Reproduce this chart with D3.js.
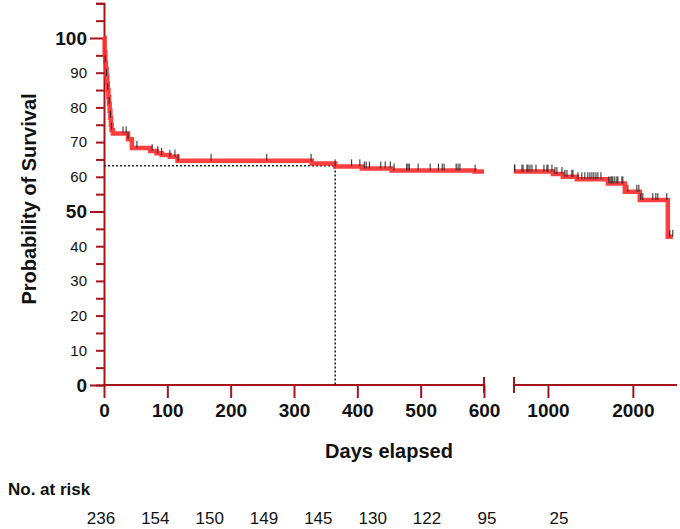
<!DOCTYPE html>
<html>
<head>
<meta charset="utf-8">
<script src="https://cdn.jsdelivr.net/npm/d3@7"></script>
<style>
  body { margin: 0; background: #fff; }
  text { font-family: "Liberation Sans", Arial, sans-serif; fill: #111; }
</style>
</head>
<body>
<script>
// Kaplan-Meier steps (days, % surviving)
var stepDays = [0, 1, 2, 3, 4, 5, 6, 7, 8, 9, 10, 11, 12, 14, 38, 44, 73, 83, 91, 104, 116,
                328, 365, 407, 454, 585, 1059, 1176, 1341, 1706, 1906, 2082, 2412];
var stepSurv = [100, 96, 93, 91, 89, 87, 85, 83, 81, 79, 77, 75, 73.5, 72.5, 70.8, 68.3, 67.4, 66.8, 66.3, 65.8, 64.6,
                63.8, 63.0, 62.4, 61.8, 61.5, 60.8, 60.0, 59.3, 58.1, 55.7, 53.3, 42.7];
var lastDay = 2471;

// censored observations (days)
var censorDays = [2, 4, 6, 8, 10, 12, 30, 35, 38, 52, 76, 85, 91, 104, 112, 117, 169, 257, 327, 365,
                  391, 404, 411, 414, 419, 437, 444, 452, 458, 478, 480, 482, 496, 515, 528, 534, 537,
                  556, 559, 562, 586, 605, 610, 694, 706, 753, 765, 788, 812, 859, 953, 988, 1000, 1047,
                  1082, 1106, 1165, 1200, 1224, 1282, 1294, 1353, 1400, 1435, 1470, 1494, 1518, 1541,
                  1565, 1588, 1624, 1718, 1741, 1753, 1765, 1788, 1812, 1824, 1871, 1882, 1941, 2047,
                  2071, 2094, 2118, 2235, 2271, 2294, 2400, 2435, 2471];

var xTicks1 = [0, 100, 200, 300, 400, 500, 600];
var xTicks2 = [1000, 2000];
var yTicks = d3.range(0, 111, 5);
var yBold = [0, 50, 100];

var riskCounts = [236, 154, 150, 149, 145, 130, 122, 95, 25];

var medianDay = 365, medianSurv = 63.2;

var axisColor = "#a3151a",
    curveColor = "#ff2a2a";

var width = 680, height = 529;

var svg = d3.select("body")
            .append("svg")
              .attr("width", width)
              .attr("height", height);

var x1 = d3.scaleLinear().domain([0, 600]).range([104, 484]);
var x2 = d3.scaleLinear().domain([600, 2520]).range([514, 677]);
var y = d3.scaleLinear().domain([0, 110]).range([385, 3.3]);

function xPos(d) { return d <= 600 ? x1(d) : x2(d); }

function survAt(d) {
  var i = d3.bisectRight(stepDays, d) - 1;
  return stepSurv[Math.max(i, 0)];
}

// ---- y axis
var yAxis = svg.append("g")
  .attr("transform", "translate(" + x1(0) + ",0)")
  .call(d3.axisLeft(y)
    .tickValues(yTicks)
    .tickSize(8)
    .tickPadding(4)
    .tickFormat(function(d) { return (d % 10 == 0 && d <= 100) ? d : ""; }));

yAxis.select(".domain").attr("stroke", axisColor).attr("stroke-width", 2);
yAxis.selectAll(".tick line")
  .attr("stroke", axisColor).attr("stroke-width", 2)
  .attr("x2", function(d) { return yBold.indexOf(d) >= 0 ? -14 : -8; });
yAxis.selectAll(".tick text")
  .attr("x", -17)
  .style("font-family", "'Liberation Sans', Arial, sans-serif")
  .style("font-size", function(d) { return yBold.indexOf(d) >= 0 ? "19px" : "15px"; })
  .style("font-weight", function(d) { return yBold.indexOf(d) >= 0 ? "bold" : "normal"; })
  .attr("fill", "#111");

// ---- x axes (broken)
function styleX(g) {
  g.select(".domain").remove();
  g.selectAll(".tick line").attr("stroke", axisColor).attr("stroke-width", 2);
  g.selectAll(".tick text")
    .style("font-family", "'Liberation Sans', Arial, sans-serif")
    .style("font-size", "19px")
    .style("font-weight", "bold")
    .attr("fill", "#111");
}

var xa1 = svg.append("g")
  .attr("transform", "translate(0," + y(0) + ")")
  .call(d3.axisBottom(x1).tickValues(xTicks1).tickSize(13).tickPadding(6).tickFormat(d3.format("d")))
  .call(styleX);

var xa2 = svg.append("g")
  .attr("transform", "translate(0," + y(0) + ")")
  .call(d3.axisBottom(x2).tickValues(xTicks2).tickSize(13).tickPadding(6).tickFormat(d3.format("d")))
  .call(styleX);

// axis lines and break caps
[[x1(0), x1(600)], [x2(600), x2.range()[1]]].forEach(function(s) {
  svg.append("line")
    .attr("x1", s[0]).attr("x2", s[1])
    .attr("y1", y(0)).attr("y2", y(0))
    .attr("stroke", axisColor).attr("stroke-width", 2);
});
[x1(600), x2(600)].forEach(function(cx) {
  svg.append("line")
    .attr("x1", cx).attr("x2", cx)
    .attr("y1", y(0) - 8).attr("y2", y(0) + 8)
    .attr("stroke", axisColor).attr("stroke-width", 2);
});

// ---- median guides
svg.append("path")
  .attr("d", "M" + x1(0) + "," + y(medianSurv) + "H" + x1(medianDay) + "V" + y(0))
  .attr("fill", "none")
  .attr("stroke", "#222")
  .attr("stroke-width", 1.6)
  .attr("stroke-dasharray", "2,2");

// ---- survival curve, two pieces
var line1 = d3.line().curve(d3.curveStepAfter).x(function(d) { return x1(d[0]); }).y(function(d) { return y(d[1]); });
var line2 = d3.line().curve(d3.curveStepAfter).x(function(d) { return x2(d[0]); }).y(function(d) { return y(d[1]); });

var pts1 = stepDays.filter(function(d) { return d <= 600; }).map(function(d) { return [d, survAt(d)]; });
pts1.push([600, survAt(600)]);
var pts2 = [[600, survAt(600)]].concat(
  stepDays.filter(function(d) { return d > 600; }).map(function(d) { return [d, survAt(d)]; }));
pts2.push([lastDay, survAt(lastDay)]);

svg.append("path").datum(pts1)
  .attr("d", line1).attr("fill", "none")
  .attr("stroke", curveColor).attr("stroke-width", 4.5).attr("opacity", 0.9);
svg.append("path").datum(pts2)
  .attr("d", line2).attr("fill", "none")
  .attr("stroke", curveColor).attr("stroke-width", 4.5).attr("opacity", 0.9);

// ---- censor ticks
svg.append("g").selectAll("line")
  .data(censorDays)
  .enter()
  .append("line")
  .attr("x1", function(d) { return xPos(d); })
  .attr("x2", function(d) { return xPos(d); })
  .attr("y1", function(d) { return y(survAt(d)) - 7; })
  .attr("y2", function(d) { return y(survAt(d)); })
  .attr("stroke", "#222")
  .attr("stroke-width", 1);

// ---- titles
svg.append("text")
  .attr("x", 389).attr("y", 458)
  .attr("text-anchor", "middle")
  .style("font-size", "20px").style("font-weight", "bold")
  .text("Days elapsed");

svg.append("text")
  .attr("transform", "translate(36,199) rotate(-90)")
  .attr("text-anchor", "middle")
  .style("font-size", "20px").style("font-weight", "bold")
  .text("Probability of Survival");

// ---- number at risk
svg.append("text")
  .attr("x", 8).attr("y", 495)
  .style("font-size", "17px").style("font-weight", "bold")
  .text("No. at risk");

var riskEarly = d3.scaleLinear().domain([0, 6]).range([101, 427]);
var riskLate = d3.scaleLinear().domain([7, 8]).range([487, 559]);

svg.append("g").selectAll("text")
  .data(riskCounts)
  .enter()
  .append("text")
  .attr("x", function(d, i) { return i <= 6 ? riskEarly(i) : riskLate(i); })
  .attr("y", 524)
  .attr("text-anchor", "middle")
  .style("font-size", "17px")
  .text(function(d) { return d; });
</script>
</body>
</html>
